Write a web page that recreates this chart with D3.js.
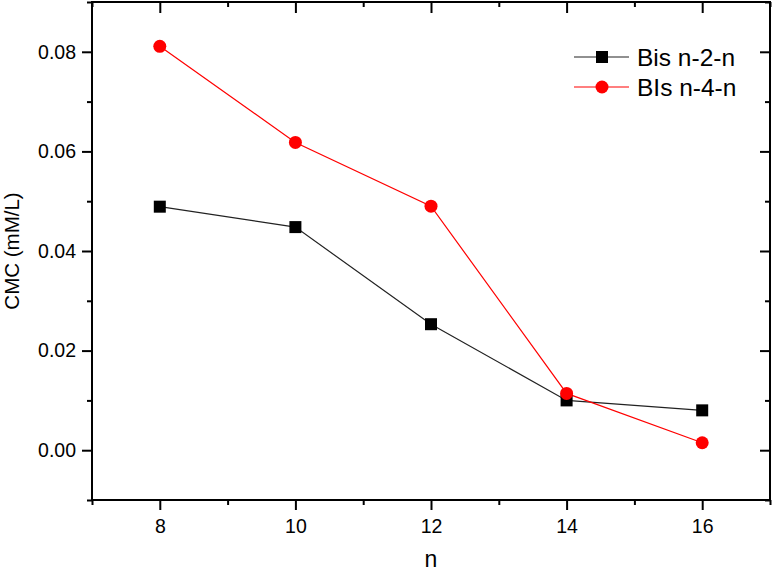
<!DOCTYPE html>
<html>
<head>
<meta charset="utf-8">
<script src="https://cdn.jsdelivr.net/npm/d3@7"></script>
<style>
  body { margin: 0; background: #fff; }
  text { font-family: "Liberation Sans", Arial, sans-serif; }
</style>
</head>
<body>
<svg width="774" height="573"></svg>
<script>
const n_values = [8, 10, 12, 14, 16];
const bis_2 = [0.0489, 0.0448, 0.0253, 0.0100, 0.0080];
const bis_4 = [0.0811, 0.0618, 0.0490, 0.0114, 0.0015];
const x_ticks = [8, 10, 12, 14, 16];
const x_minor = [7, 9, 11, 13, 15, 17];
const y_ticks = [0.00, 0.02, 0.04, 0.06, 0.08];
const y_minor = [-0.01, 0.01, 0.03, 0.05, 0.07, 0.09];
const series_names = ["Bis n-2-n", "BIs n-4-n"];
const series_colors = ["#000000", "#ff0000"];

const svg = d3.select("svg");
const margin = { top: 2, right: 4, bottom: 73, left: 92 };
const inner_width = 774 - margin.left - margin.right;
const inner_height = 573 - margin.top - margin.bottom;

const g = svg.append("g")
    .attr("transform", `translate(${margin.left}, ${margin.top})`);

const x_scale = d3.scaleLinear().domain([7, 17]).range([0, inner_width]);
const y_scale = d3.scaleLinear().domain([-0.01, 0.09]).range([inner_height, 0]);

// axes: major + minor, bottom/left outward, top/right inward
const styleAxis = (sel) => {
    sel.select(".domain").remove();
    sel.selectAll(".tick line").attr("stroke", "#000").attr("stroke-width", 2);
    sel.selectAll(".tick text")
        .style("font-size", "19.5px")
        .attr("fill", "#000");
};

g.append("g").attr("transform", `translate(0, ${inner_height})`)
    .call(d3.axisBottom(x_scale).tickValues(x_ticks).tickSize(10).tickPadding(9)
        .tickFormat(d3.format("d")))
    .call(styleAxis);
g.append("g").attr("transform", `translate(0, ${inner_height})`)
    .call(d3.axisBottom(x_scale).tickValues(x_minor).tickSize(5).tickFormat(""))
    .call(styleAxis);
g.append("g")
    .call(d3.axisTop(x_scale).tickValues(x_ticks).tickSize(-11).tickFormat(""))
    .call(styleAxis);
g.append("g")
    .call(d3.axisTop(x_scale).tickValues(x_minor).tickSize(-5).tickFormat(""))
    .call(styleAxis);

g.append("g")
    .call(d3.axisLeft(y_scale).tickValues(y_ticks).tickSize(10).tickPadding(6)
        .tickFormat(d3.format(".2f")))
    .call(styleAxis);
g.append("g")
    .call(d3.axisLeft(y_scale).tickValues(y_minor).tickSize(5).tickFormat(""))
    .call(styleAxis);
g.append("g").attr("transform", `translate(${inner_width}, 0)`)
    .call(d3.axisRight(y_scale).tickValues(y_ticks).tickSize(-10).tickFormat(""))
    .call(styleAxis);
g.append("g").attr("transform", `translate(${inner_width}, 0)`)
    .call(d3.axisRight(y_scale).tickValues(y_minor).tickSize(-5).tickFormat(""))
    .call(styleAxis);

// frame
g.append("rect")
    .attr("width", inner_width)
    .attr("height", inner_height)
    .attr("fill", "none")
    .attr("stroke", "#000")
    .attr("stroke-width", 2);

// axis titles
g.append("text")
    .attr("x", x_scale(12))
    .attr("y", inner_height + 67)
    .attr("text-anchor", "middle")
    .style("font-size", "23px")
    .text("n");
g.append("text")
    .attr("transform", `translate(${19 - margin.left}, ${inner_height / 2}) rotate(-90)`)
    .attr("text-anchor", "middle")
    .style("font-size", "20.5px")
    .text("CMC (mM/L)");

// lines + markers
const line = d3.line()
    .x((d, i) => x_scale(n_values[i]))
    .y((d) => y_scale(d));

const all_series = [bis_2, bis_4];
all_series.forEach((values, k) => {
    g.append("path")
        .datum(values)
        .attr("d", line)
        .attr("fill", "none")
        .attr("stroke", k === 0 ? "#222" : series_colors[k])
        .attr("stroke-width", 1.2);
});

g.selectAll(".sq")
    .data(bis_2)
    .enter()
    .append("rect")
    .attr("x", (d, i) => x_scale(n_values[i]) - 6)
    .attr("y", (d) => y_scale(d) - 6)
    .attr("width", 12)
    .attr("height", 12)
    .attr("fill", series_colors[0]);

g.selectAll(".dot")
    .data(bis_4)
    .enter()
    .append("circle")
    .attr("cx", (d, i) => x_scale(n_values[i]))
    .attr("cy", (d) => y_scale(d))
    .attr("r", 6.5)
    .attr("fill", series_colors[1]);

// legend
const legend = svg.append("g");
series_names.forEach((name, k) => {
    const ly = 57 + k * 30;
    legend.append("line")
        .attr("x1", 574).attr("x2", 629)
        .attr("y1", ly).attr("y2", ly)
        .attr("stroke", k === 0 ? "#222" : series_colors[k])
        .attr("stroke-width", 1.2);
    if (k === 0) {
        legend.append("rect")
            .attr("x", 596).attr("y", ly - 6)
            .attr("width", 12).attr("height", 12)
            .attr("fill", series_colors[k]);
    } else {
        legend.append("circle")
            .attr("cx", 602).attr("cy", ly).attr("r", 6.5)
            .attr("fill", series_colors[k]);
    }
    legend.append("text")
        .attr("x", 637)
        .attr("y", ly)
        .attr("dy", "0.36em")
        .style("font-size", "24.5px")
        .text(name);
});
</script>
</body>
</html>
